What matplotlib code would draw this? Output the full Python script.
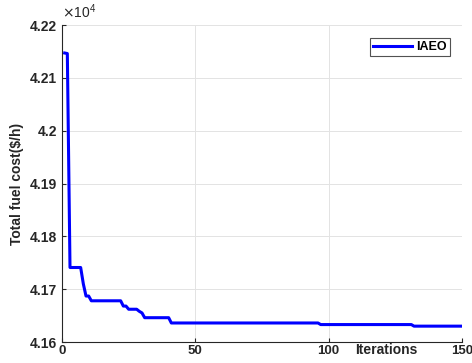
import numpy as np
import matplotlib
matplotlib.use('Agg')
import matplotlib.pyplot as plt

plt.rcParams['font.family'] = ['Liberation Sans', 'DejaVu Sans']

# convergence curve: (first iteration, value in $/h) for each level
stepStart = [1, 2, 3, 8, 9, 11, 23, 25, 29, 30, 31, 41, 97, 132]
stepCost = [42147, 42146, 41741, 41710, 41687, 41678, 41668, 41662, 41658, 41655,
            41646, 41636, 41633, 41630]
nIter = 150
yTicks = [41600, 41700, 41800, 41900, 42000, 42100, 42200]
xTicks = [0, 50, 100, 150]

iters = np.arange(1, nIter + 1)
lengths = np.diff(stepStart + [nIter + 1])
cost = np.repeat(stepCost, lengths)

fig = plt.figure(figsize=(4.72, 3.63), dpi=100)
ax = fig.add_axes([62 / 472, 21 / 363, 400 / 472, 317 / 363])

ax.plot(iters, cost, color=(0, 0, 1), linewidth=2.2, label='IAEO')

ax.set_xlim(0, 150)
ax.set_ylim(41600, 42200)
ax.set_xticks(xTicks)
ax.set_xticklabels([str(t) for t in xTicks])
ax.set_yticks(yTicks)
ax.set_yticklabels(['%g' % (t / 1e4) for t in yTicks])
ax.grid(True, color='#e3e3e3', linewidth=0.7)
ax.set_axisbelow(True)

for s in ['top', 'right']:
    ax.spines[s].set_visible(False)
for s in ['left', 'bottom']:
    ax.spines[s].set_color('#262626')
    ax.spines[s].set_linewidth(0.8)

ax.tick_params(direction='in', length=3, width=0.8, colors='#262626', labelsize=10)
ax.tick_params(axis='x', pad=2, labelsize=9.5)
for lbl in ax.get_xticklabels() + ax.get_yticklabels():
    lbl.set_fontweight('bold')

ax.text(0.0, 1.012, r'$\times\mathregular{10^{4}}$', transform=ax.transAxes,
        fontsize=10, color='#262626', ha='left', va='bottom')

ax.set_ylabel('Total fuel cost($/h)', fontsize=10, fontweight='bold', color='#262626', labelpad=4)
ax.text(0.81, -0.004, 'Iterations', transform=ax.transAxes, fontsize=10,
        fontweight='bold', color='#262626', ha='center', va='top')

leg = ax.legend(loc='upper right', bbox_to_anchor=(0.97, 0.959), fancybox=False,
                prop={'weight': 'bold', 'size': 9}, handlelength=3.1,
                borderpad=0.25, handletextpad=0.35, borderaxespad=0)
leg.get_frame().set_edgecolor('#262626')
leg.get_frame().set_linewidth(0.8)

fig.savefig('out.png', dpi=100)
